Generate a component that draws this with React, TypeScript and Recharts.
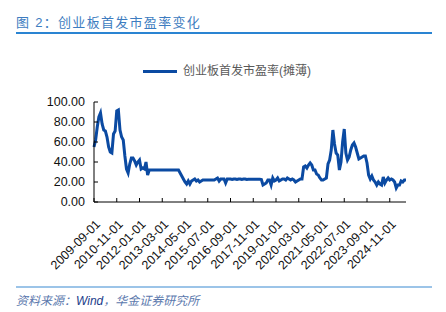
import React from 'react';
import { LineChart, Line, XAxis, YAxis } from 'recharts';

// 创业板首发市盈率(摊薄), monthly, 2009-09 .. 2025-09
const pe2009 = [55, 62, 75, 85];
const pe2010 = [89, 78, 72, 71, 65, 55, 50, 49, 68, 71, 91, 92];
const pe2011 = [72, 65, 62, 46, 33, 29, 38, 44, 44, 41, 37, 40];
const pe2012 = [42, 33, 34, 33, 40, 27, 32, 32, 32, 32, 32, 32];
const pe2013 = [32, 32, 32, 32, 32, 32, 32, 32, 32, 32, 32, 32];
const pe2014 = [32, 29, 26, 23, 20, 18, 21, 18, 21, 22, 23, 21];
const pe2015 = [22, 20, 21, 22, 22, 22, 22, 22, 22, 22, 22, 23];
const pe2016 = [24, 21, 23, 23, 23, 19, 23, 23, 23, 22.5, 23, 23];
const pe2017 = [22.5, 23, 23, 22.5, 23, 23, 22.5, 22.8, 22.8, 22.8, 22.8, 22.8];
const pe2018 = [22.8, 22.8, 22.8, 22.5, 17, 18, 19, 22, 22, 17, 24, 21];
const pe2019 = [22, 24, 21, 22, 23, 23, 22, 24, 23, 22, 23, 22];
const pe2020 = [20, 21, 22, 23, 23, 35, 36, 34, 37, 39, 37, 32];
const pe2021 = [32, 28, 27, 24, 22, 22, 23, 24, 38, 42, 52, 72];
const pe2022 = [58, 49, 47, 32, 40, 60, 73, 49, 42, 45, 52, 57];
const pe2023 = [59, 55, 49, 43, 44, 45, 46, 46, 39, 27, 23, 26];
const pe2024 = [22, 20, 17, 20, 18, 17, 25, 19, 22, 24, 22, 23];
const pe2025 = [22, 20, 14, 17, 17, 21, 20, 22, 22];

const peValues = [
  ...pe2009, ...pe2010, ...pe2011, ...pe2012, ...pe2013, ...pe2014,
  ...pe2015, ...pe2016, ...pe2017, ...pe2018, ...pe2019, ...pe2020,
  ...pe2021, ...pe2022, ...pe2023, ...pe2024, ...pe2025,
];

const startYear = 2009;
const startMonth = 9;
const yTicks = [0, 20, 40, 60, 80, 100];

const data = peValues.map((v, i) => {
  const m = startMonth - 1 + i;
  const y = startYear + Math.floor(m / 12);
  const mm = String((m % 12) + 1).padStart(2, '0');
  return { date: `${y}-${mm}-01`, pe: v };
});

const font = '"Liberation Sans", Arial, "Noto Sans CJK SC", sans-serif';
const lineColor = '#0b4aa2';

const DateTick = (props: any) => {
  const { x, y, payload } = props;
  const tx = x + 7;
  const ty = y + 23;
  return (
    <text
      x={tx}
      y={ty}
      transform={`rotate(-45, ${tx}, ${ty})`}
      textAnchor="end"
      fontSize={12.5}
      fontFamily={font}
      fill="#111"
    >
      {payload.value}
    </text>
  );
};

export default function App() {
  return (
    <div style={{ position: 'absolute', left: 0, top: 0, width: 446, height: 312, background: '#fff', fontFamily: font }}>
      <div style={{ position: 'absolute', left: 16, top: 14, fontSize: 13, lineHeight: '17px', letterSpacing: 1.3, color: '#3d7cc0', whiteSpace: 'nowrap' }}>
        图 2：创业板首发市盈率变化
      </div>
      <div style={{ position: 'absolute', left: 16, top: 32, width: 416, height: 2, background: '#2a84d2' }} />

      <div style={{ position: 'absolute', left: 143, top: 69.5, width: 34, height: 3, background: lineColor }} />
      <div style={{ position: 'absolute', left: 183, top: 63, fontSize: 12, lineHeight: '16px', color: '#595959', whiteSpace: 'nowrap' }}>
        创业板首发市盈率(摊薄)
      </div>

      <div style={{ position: 'absolute', left: 0, top: 0 }}>
        <LineChart width={446} height={312} data={data} margin={{ top: 102, right: 40, bottom: 0, left: 0 }}>
          <XAxis
            dataKey="date"
            height={110}
            interval={13}
            tickSize={-4}
            tickMargin={4}
            tick={<DateTick />}
            axisLine={{ stroke: '#000' }}
            tickLine={{ stroke: '#000' }}
          />
          <YAxis
            width={94}
            domain={[0, 100]}
            ticks={yTicks}
            interval={0}
            tickSize={-4}
            tickMargin={13}
            tickFormatter={(v: number) => v.toFixed(2)}
            tick={{ fontSize: 12.5, fill: '#111', fontFamily: font }}
            axisLine={{ stroke: '#000' }}
            tickLine={{ stroke: '#000' }}
          />
          <Line type="linear" dataKey="pe" stroke={lineColor} strokeWidth={3} dot={false} isAnimationActive={false} />
        </LineChart>
      </div>

      <div style={{ position: 'absolute', left: 16, top: 285.5, width: 416, height: 2, background: '#9cc4e8' }} />
      <div style={{ position: 'absolute', left: 16, top: 293, fontSize: 12, lineHeight: '16px', fontStyle: 'italic', color: '#5b78ad', whiteSpace: 'nowrap' }}>
        资料来源：<span style={{ color: '#1c3d8a' }}>Wind</span>，华金证券研究所
      </div>
    </div>
  );
}
